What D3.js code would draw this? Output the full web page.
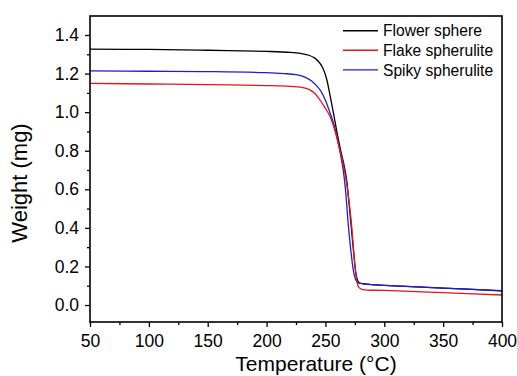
<!DOCTYPE html>
<html><head><meta charset="utf-8">
<script src="https://cdn.jsdelivr.net/npm/d3@7"></script>
<style>body{margin:0;background:#fff;} svg{display:block;font-family:"Liberation Sans",Arial,sans-serif;}</style>
</head><body>
<script>
const seriesNames = ["Flower sphere", "Flake spherulite", "Spiky spherulite"];
const seriesColors = ["#000000", "#e3161b", "#1c1cd8"];
const flowerT = [50,100,150,200,220,230,236,241,245,248,251,254,257,260,263,266,268,270,272,274,276,277.5,279,285,300,350,400];
const flowerW = [1.327,1.325,1.321,1.315,1.310,1.303,1.295,1.280,1.256,1.226,1.172,1.085,0.99,0.89,0.80,0.72,0.65,0.53,0.40,0.27,0.16,0.125,0.114,0.108,0.102,0.088,0.073];
const flakeT = [50,100,150,200,220,230,236,241,245,250,254,258,261,264,267,270,272,274,275.5,277,278.5,282,300,350,400];
const flakeW = [1.149,1.146,1.143,1.138,1.134,1.128,1.118,1.097,1.066,1.02,0.976,0.905,0.835,0.76,0.67,0.54,0.43,0.28,0.18,0.115,0.09,0.08,0.076,0.064,0.052];
const spikyT = [50,100,150,200,215,225,232,238,242,246,250,254,257,260,263,265,267,269.5,272,274,275.5,277,280,290,300,350,400];
const spikyW = [1.214,1.212,1.210,1.205,1.200,1.194,1.183,1.163,1.14,1.11,1.062,0.994,0.94,0.865,0.775,0.705,0.60,0.41,0.26,0.17,0.135,0.118,0.112,0.106,0.102,0.088,0.074];
const xTicks = [50,100,150,200,250,300,350,400];
const yTicks = [0.0,0.2,0.4,0.6,0.8,1.0,1.2,1.4];
const xLabel = "Temperature (\u00B0C)";
const yLabel = "Weight (mg)";

const W = 517, H = 376;
const m = {l:90, r:15, t:16, b:54};
const svg = d3.select("body").append("svg").attr("width", W).attr("height", H);
const x = d3.scaleLinear().domain([50,400]).range([m.l, W-m.r]);
const y = d3.scaleLinear().domain([-0.088, 1.4+19/192.9]).range([H-m.b, m.t]);

svg.append("defs").append("clipPath").attr("id","clip").append("rect")
  .attr("x", m.l).attr("y", m.t).attr("width", W-m.l-m.r).attr("height", H-m.t-m.b);

const series = [[flowerT, flowerW], [flakeT, flakeW], [spikyT, spikyW]];
const line = d3.line().x(d=>x(d[0])).y(d=>y(d[1])).curve(d3.curveCatmullRom.alpha(0.5));
const order = [0,2,1];
order.forEach(i => {
  const pts = series[i][0].map((t,k)=>[t, series[i][1][k]]);
  svg.append("path").datum(pts).attr("d", line).attr("fill","none")
    .attr("stroke", seriesColors[i]).attr("stroke-width", 1.3).attr("clip-path","url(#clip)");
});

// axes
const xAxis = d3.axisBottom(x).tickValues(xTicks).tickSize(5).tickSizeOuter(0).tickPadding(4).tickFormat(d3.format("d"));
const gx = svg.append("g").attr("transform", `translate(0,${H-m.b})`).call(xAxis);
const xMinor = d3.axisBottom(x).tickValues(d3.range(75,400,50)).tickSize(3).tickSizeOuter(0).tickFormat("");
svg.append("g").attr("transform", `translate(0,${H-m.b})`).call(xMinor).select(".domain").remove();
const yAxis = d3.axisLeft(y).tickValues(yTicks).tickSize(5).tickSizeOuter(0).tickPadding(6).tickFormat(d3.format(".1f"));
const gy = svg.append("g").attr("transform", `translate(${m.l},0)`).call(yAxis);
const yMinor = d3.axisLeft(y).tickValues([0.1,0.3,0.5,0.7,0.9,1.1,1.3]).tickSize(3).tickSizeOuter(0).tickFormat("");
svg.append("g").attr("transform", `translate(${m.l},0)`).call(yMinor).select(".domain").remove();

svg.selectAll(".tick line").attr("stroke","#000").attr("stroke-width",1.3);
svg.selectAll(".tick text").attr("fill","#000").style("font-size","17.5px").style("font-family","'Liberation Sans',Arial,sans-serif");
gx.selectAll(".tick text").attr("dy","0.9em");

// frame
svg.append("rect").attr("x", m.l).attr("y", m.t).attr("width", W-m.l-m.r).attr("height", H-m.t-m.b)
  .attr("fill","none").attr("stroke","#000").attr("stroke-width",1.6);
svg.selectAll(".domain").remove();

// labels
svg.append("text").attr("x", 316).attr("y", 371).attr("text-anchor","middle")
  .style("font-size","21px").text(xLabel);
svg.append("text").attr("transform", "translate(27,183) rotate(-90)").attr("text-anchor","middle")
  .style("font-size","22px").text(yLabel);

// legend
seriesNames.forEach((n,i)=>{
  const ly = 30.7 + i*19.6;
  svg.append("line").attr("x1",343).attr("x2",378).attr("y1",ly).attr("y2",ly)
    .attr("stroke", seriesColors[i]).attr("stroke-width",1.4);
  svg.append("text").attr("x",383).attr("y",ly+5.6).style("font-size","15.6px").text(n);
});
</script>
</body></html>
